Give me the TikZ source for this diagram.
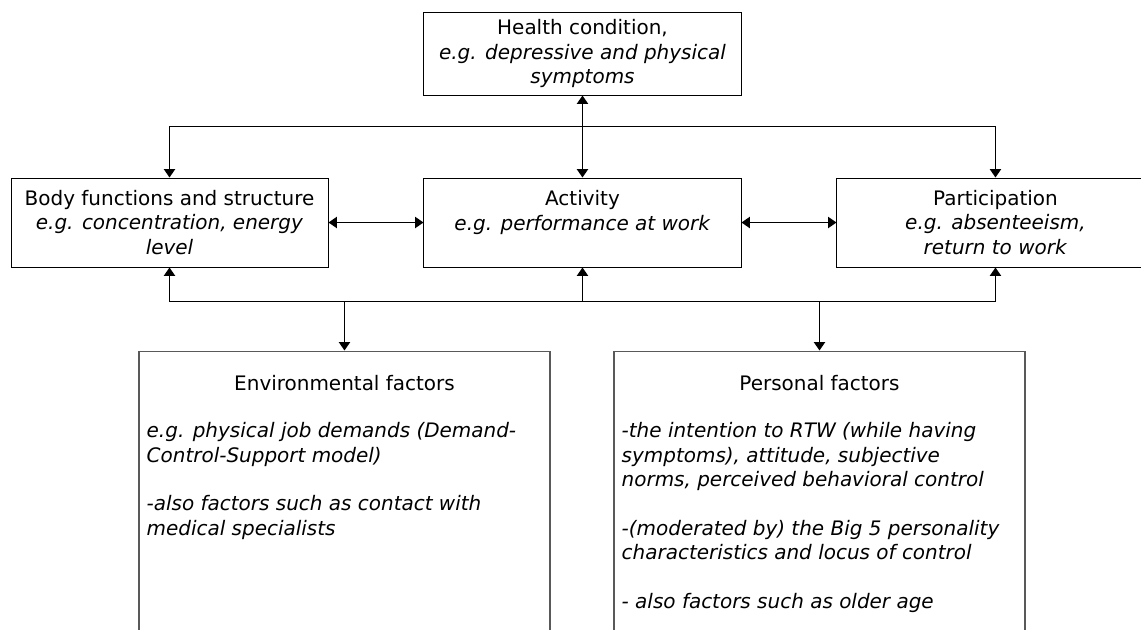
\documentclass[tikz,border=0pt]{standalone}
\usepackage{fontspec}
\setmainfont{DejaVu Sans}
\usetikzlibrary{positioning,arrows.meta}

\begin{document}
\begin{tikzpicture}[
    node distance=2.375cm,
    font=\fontsize{14.2}{17.3}\selectfont,
    box/.style={rectangle, draw, line width=0.7pt, minimum width=7.925cm, minimum height=2.225cm, inner sep=0pt, align=center},
    factorbox/.style={rectangle, draw=black!65, line width=0.8pt, minimum width=10.275cm, minimum height=8cm, inner sep=0pt},
    factortext/.style={inner sep=0pt, align=left, anchor=north west, font=\fontsize{14.2}{17.3}\selectfont\itshape},
    arrow/.style={-{Triangle[length=6pt,width=8pt]}, line width=1pt},
    dblarrow/.style={{Triangle[length=6pt,width=8pt]}-{Triangle[length=6pt,width=8pt]}, line width=1pt}
]
    \useasboundingbox (0,0) rectangle (28.525,-15.725);
    \clip (0,0) rectangle (28.525,-15.725);

    % ICF components
    \node[box] (body) at (4.2375,-5.5625) {Body functions and structure\\ \textit{e.g. concentration, energy}\\ \textit{level}};
    \node[box, right=of body] (activity) {Activity\\ \textit{e.g. performance at work}\\ \mbox{}};
    \node[box, right=of activity] (participation) {Participation\\ \textit{e.g. absenteeism,}\\ \textit{return to work}};
    \node[box, above=2.05cm of activity, minimum height=2.075cm] (health) {Health condition,\\ \textit{e.g. depressive and physical}\\ \textit{symptoms}};

    % contextual factors
    \node[factorbox, below=2.075cm of activity, xshift=-5.95cm] (env) {};
    \node[factorbox, below=2.075cm of activity, xshift=5.925cm] (personal) {};

    \node[anchor=base] (envtitle) at ([yshift=-1cm]env.north) {Environmental factors};
    \node[factortext] (envtext) at ([xshift=0.2cm,yshift=-1.8cm]env.north west)
        {e.g. physical job demands (Demand-\\ Control-Support model)\\[17.3pt] -also factors such as contact with\\ medical specialists};

    \node[anchor=base] (pertitle) at ([yshift=-1cm]personal.north) {Personal factors};
    \node[factortext] (pertext) at ([xshift=0.2cm,yshift=-1.8cm]personal.north west)
        {-the intention to RTW (while having\\ symptoms), attitude, subjective\\ norms, perceived behavioral control\\[17.3pt] -(moderated by) the Big 5 personality\\ characteristics and locus of control\\[17.3pt] - also factors such as older age};

    % connectors
    \draw[dblarrow] (health) -- (activity);
    \draw[dblarrow] (body.north) -- ++(0,1.275) -| (participation.north);
    \draw[dblarrow] (body) -- (activity);
    \draw[dblarrow] (activity) -- (participation);
    \draw[dblarrow] (body.south) -- ++(0,-0.85) coordinate (bus) -| (participation.south);
    \draw[arrow] (bus -| activity.south) -- (activity.south);
    \draw[arrow] (bus -| env.north) -- (env.north);
    \draw[arrow] (bus -| personal.north) -- (personal.north);
\end{tikzpicture}
\end{document}
